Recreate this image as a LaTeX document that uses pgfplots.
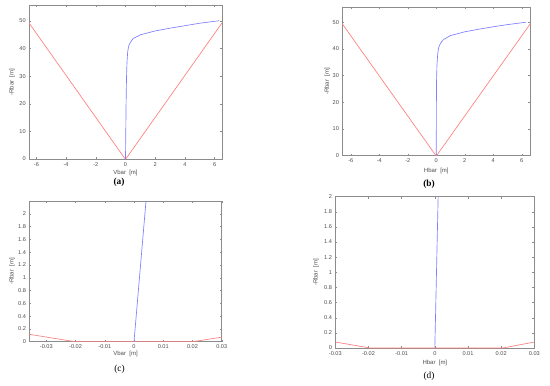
\documentclass[border=0pt]{standalone}
\usepackage{fontspec}
\setmainfont{Liberation Serif}
\newfontfamily\sansf{Liberation Sans}
\usepackage{pgfplots}
\pgfplotsset{compat=1.18}
\definecolor{axgray}{HTML}{8C8C8C}
\definecolor{txtgray}{HTML}{4D4D4D}
\definecolor{lblue}{HTML}{7F7FFF}
\definecolor{lred}{HTML}{FF7F7F}
\pgfplotsset{matlab/.style={
  scale only axis, anchor=south west,
  axis line style={axgray, line width=0.4pt},
  tick style={axgray, line width=0.3pt},
  major tick length=1.5pt, tick align=inside,
  ticklabel style={font=\sansf\fontsize{4.2}{5}\selectfont, text=txtgray},
  label style={font=\sansf\fontsize{4.5}{5.5}\selectfont, text=txtgray},
  /pgf/number format/assume math mode=true,
  /pgf/number format/fixed,
  scaled ticks=false,
  xticklabel shift=-1pt, yticklabel shift=-1pt,
}}
\begin{document}
\begin{tikzpicture}
\path (0,0) rectangle (412.5pt,288.75pt);
% (a)
\begin{axis}[matlab, at={(21.75pt,169.5pt)}, width=144.75pt, height=115.5pt,
  xmin=-6.5, xmax=6.5, ymin=0, ymax=55.8,
  xtick={-6,-4,...,6}, ytick={0,10,...,50},
  xlabel={Vbar\ \ [m]}, ylabel={-Rbar\ \ [m]},
  xlabel style={at={(axis description cs:0.5,-0.091)}, anchor=center},
  ylabel style={at={(axis description cs:-0.088,0.5)}, anchor=center}]
\addplot[lred, line width=0.5pt] coordinates {(-6.5,49.3) (-0.02,0) (0.02,0) (6.5,49.3)};
\addplot[lblue, line width=0.5pt] coordinates {(0,0) (0.02,10) (0.04,20) (0.06,27) (0.08,32) (0.1,35) (0.15,39) (0.22,41) (0.3,42) (0.5,43.6) (1,45) (2,46.4) (3,47.4) (4,48.3) (5,49.2) (6.3,50.1)};
\end{axis}
% (b)
\begin{axis}[matlab, at={(256.7pt,172pt)}, width=141pt, height=111.3pt,
  xmin=-6.6, xmax=6.6, ymin=0, ymax=55.6,
  xtick={-6,-4,...,6}, ytick={0,10,...,50},
  xlabel={Hbar\ \ [m]}, ylabel={-Rbar\ \ [m]},
  xlabel style={at={(axis description cs:0.5,-0.103)}, anchor=center},
  ylabel style={at={(axis description cs:-0.08,0.5)}, anchor=center}]
\addplot[lred, line width=0.5pt] coordinates {(-6.6,49.4) (-0.02,0) (0.02,0) (6.6,49.4)};
\addplot[lblue, line width=0.5pt] coordinates {(0,0) (0.005,10) (0.01,20) (0.02,28) (0.05,34) (0.1,38) (0.15,40) (0.2,41) (0.3,42.1) (0.5,43.5) (1,45) (2,46.4) (3,47.4) (4,48.3) (5,49.1) (6.3,50)};
\end{axis}
% (c)
\begin{axis}[matlab, at={(22pt,32.5pt)}, width=144.3pt, height=105.5pt,
  xmin=-0.0358, xmax=0.03, ymin=0, ymax=2.2,
  xtick={-0.03,-0.02,...,0.031}, ytick={0,0.2,...,2.01},
  xticklabel style={/pgf/number format/precision=2},
  xlabel={Vbar\ \ [m]}, ylabel={-Rbar\ \ [m]},
  xlabel style={at={(axis description cs:0.5,-0.087)}, anchor=center},
  ylabel style={at={(axis description cs:-0.09,0.5)}, anchor=center}]
\addplot[lred, line width=0.5pt] coordinates {(-0.0358,0.115) (-0.0202,0) (0.0201,0) (0.03,0.07)};
\addplot[lblue, line width=0.5pt] coordinates {(0,0) (0.0041,2.2) (0.0186,10)};
\end{axis}
% (d)
\begin{axis}[matlab, at={(251.5pt,27.75pt)}, width=149.25pt, height=113.5pt,
  xmin=-0.03, xmax=0.03, ymin=0, ymax=2,
  xtick={-0.03,-0.02,...,0.031}, ytick={0,0.2,...,2.01},
  xticklabel style={/pgf/number format/precision=2},
  xlabel={Hbar\ \ [m]}, ylabel={-Rbar\ \ [m]},
  xlabel style={at={(axis description cs:0.5,-0.099)}, anchor=center},
  ylabel style={at={(axis description cs:-0.097,0.5)}, anchor=center}]
\addplot[lred, line width=0.5pt] coordinates {(-0.03,0.079) (-0.0195,0) (0.0205,0) (0.03,0.079)};
\addplot[lblue, line width=0.5pt] coordinates {(0,0) (0.001,2) (0.005,10)};
\end{axis}
\node[font=\fontsize{7}{8}\selectfont\bfseries] at (89.25pt,152.25pt) {(a)};
\node[font=\fontsize{7}{8}\selectfont\bfseries] at (321.75pt,150.75pt) {(b)};
\node[font=\fontsize{7}{8}\selectfont] at (89.6pt,12pt) {(c)};
\node[font=\fontsize{7}{8}\selectfont] at (321.75pt,6.5pt) {(d)};
\end{tikzpicture}
\end{document}
